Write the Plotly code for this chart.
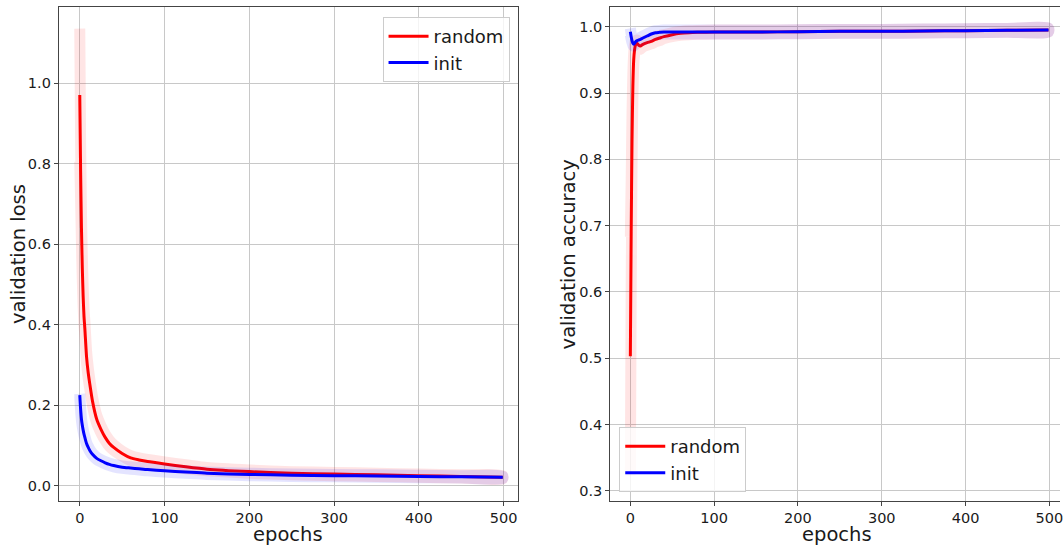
import plotly.graph_objects as go

# ---------------- data ----------------
epochs = [0, 1, 2, 3, 4, 5, 6, 8, 10, 12, 15, 20, 25, 30, 35, 40, 50, 60, 70, 80,
          100, 125, 150, 200, 250, 300, 350, 400, 450, 499]

random_loss = [0.97, 0.78, 0.64, 0.54, 0.47, 0.42, 0.39, 0.32, 0.28, 0.25, 0.21,
               0.165, 0.14, 0.12, 0.105, 0.095, 0.08, 0.069, 0.064, 0.060, 0.054,
               0.047, 0.041, 0.035, 0.031, 0.029, 0.027, 0.025, 0.023, 0.021]
random_loss_std = [0.165, 0.07, 0.04, 0.03, 0.025, 0.02, 0.018, 0.015, 0.013, 0.012,
                   0.011, 0.01, 0.009, 0.008, 0.008, 0.007, 0.006, 0.006, 0.005,
                   0.005, 0.005, 0.005, 0.004, 0.004, 0.004, 0.004, 0.004, 0.004,
                   0.004, 0.004]

init_loss = [0.225, 0.19, 0.165, 0.15, 0.138, 0.128, 0.12, 0.105, 0.095, 0.087,
             0.078, 0.068, 0.062, 0.057, 0.053, 0.050, 0.046, 0.044, 0.042, 0.040,
             0.037, 0.034, 0.031, 0.028, 0.026, 0.025, 0.024, 0.023, 0.022, 0.021]
init_loss_std = [0.003, 0.003, 0.003, 0.003, 0.003, 0.003, 0.003, 0.003, 0.003,
                 0.003, 0.003, 0.003, 0.003, 0.003, 0.003, 0.003, 0.003, 0.003,
                 0.003, 0.003, 0.003, 0.003, 0.003, 0.003, 0.003, 0.003, 0.003,
                 0.003, 0.003, 0.003]

random_acc = [0.503, 0.69, 0.83, 0.91, 0.95, 0.965, 0.972, 0.975, 0.972, 0.971,
              0.9735, 0.976, 0.978, 0.981, 0.983, 0.985, 0.988, 0.990, 0.991,
              0.9915, 0.992, 0.992, 0.992, 0.9925, 0.993, 0.993, 0.9935, 0.994,
              0.9945, 0.995]
random_acc_std = [0.18, 0.08, 0.04, 0.02, 0.01, 0.008, 0.006, 0.005, 0.005, 0.005,
                  0.004, 0.004, 0.004, 0.004, 0.004, 0.003, 0.003, 0.003, 0.003,
                  0.003, 0.003, 0.003, 0.003, 0.003, 0.003, 0.003, 0.003, 0.003,
                  0.003, 0.003]

init_acc = [0.9925, 0.985, 0.979, 0.975, 0.9735, 0.975, 0.977, 0.979, 0.980, 0.981,
            0.983, 0.986, 0.989, 0.991, 0.9915, 0.992, 0.992, 0.992, 0.992, 0.992,
            0.992, 0.992, 0.992, 0.9925, 0.993, 0.993, 0.9935, 0.994, 0.9945, 0.995]
init_acc_std = [0.005, 0.004, 0.003, 0.003, 0.003, 0.003, 0.003, 0.003, 0.003,
                0.003, 0.003, 0.003, 0.003, 0.003, 0.003, 0.003, 0.003, 0.003,
                0.003, 0.003, 0.003, 0.003, 0.003, 0.003, 0.003, 0.003, 0.003,
                0.003, 0.003, 0.003]

x_ticks = [0, 100, 200, 300, 400, 500]
loss_ticks = [0.0, 0.2, 0.4, 0.6, 0.8, 1.0]
acc_ticks = [0.3, 0.4, 0.5, 0.6, 0.7, 0.8, 0.9, 1.0]

RED = "#ff0000"
BLUE = "#0000ff"
FONT = "DejaVu Sans"
TXT = "#1a1a1a"

fig = go.Figure()


def band(mean, std, color, xa, ya):
    up = [m + s for m, s in zip(mean, std)]
    lo = [m - s for m, s in zip(mean, std)]
    fig.add_trace(go.Scatter(
        x=epochs + epochs[::-1], y=up + lo[::-1], mode="lines",
        fill="toself", fillcolor=color,
        line=dict(color=color, width=11, shape="spline", smoothing=0.6),
        opacity=0.1, showlegend=False, hoverinfo="skip", xaxis=xa, yaxis=ya))


def mean_line(mean, color, name, xa, ya, legend):
    fig.add_trace(go.Scatter(
        x=epochs, y=mean, mode="lines", name=name,
        line=dict(color=color, width=3, shape="spline", smoothing=0.6),
        xaxis=xa, yaxis=ya, legend=legend))


# left: loss
band(random_loss, random_loss_std, RED, "x", "y")
mean_line(random_loss, RED, "random", "x", "y", "legend")
band(init_loss, init_loss_std, BLUE, "x", "y")
mean_line(init_loss, BLUE, "init", "x", "y", "legend")

# right: accuracy
band(random_acc, random_acc_std, RED, "x2", "y2")
mean_line(random_acc, RED, "random", "x2", "y2", "legend2")
band(init_acc, init_acc_std, BLUE, "x2", "y2")
mean_line(init_acc, BLUE, "init", "x2", "y2", "legend2")

axis_common = dict(
    showgrid=True, gridcolor="#c8c8c8", gridwidth=1, zeroline=False,
    showline=True, linecolor="#444444", linewidth=1,
    ticks="outside", ticklen=4, tickcolor="#444444",
    tickfont=dict(family=FONT, size=14.5, color=TXT),
)

title_font = dict(family=FONT, size=19.5, color=TXT)

fig.update_layout(
    width=1063, height=545,
    margin=dict(l=0, r=0, t=0, b=0),
    paper_bgcolor="white", plot_bgcolor="white",
    font=dict(family=FONT, color=TXT),
    xaxis=dict(domain=[0.0555, 0.4883], range=[-24.7, 516.5], tickvals=x_ticks,
               mirror=True, anchor="y", **axis_common),
    yaxis=dict(domain=[0.0807, 0.9866], range=[-0.038, 1.188], tickvals=loss_ticks,
               tickformat=".1f", mirror=True, anchor="x", **axis_common),
    xaxis2=dict(domain=[0.5757, 1.0], range=[-24.0, 512.7], tickvals=x_ticks,
                mirror=True, anchor="y2", ticklabeloverflow="allow", **axis_common),
    yaxis2=dict(domain=[0.0807, 0.9866], range=[0.2846, 1.0293], tickvals=acc_ticks,
                tickformat=".1f", mirror=False, anchor="x2", **axis_common),
    legend=dict(x=0.4807, y=0.9688, xanchor="right", yanchor="top",
                bgcolor="rgba(255,255,255,0.8)", bordercolor="#cccccc", borderwidth=1,
                font=dict(family=FONT, size=18, color=TXT), tracegroupgap=0,
                itemwidth=40),
    legend2=dict(x=0.5842, y=0.0972, xanchor="left", yanchor="bottom",
                 bgcolor="rgba(255,255,255,0.8)", bordercolor="#cccccc", borderwidth=1,
                 font=dict(family=FONT, size=18, color=TXT), tracegroupgap=0,
                 itemwidth=40),
    annotations=[
        dict(text="epochs", x=289 / 1063, y=1 - 534 / 545, xref="paper", yref="paper",
             showarrow=False, font=title_font, xanchor="center", yanchor="middle"),
        dict(text="epochs", x=839 / 1063, y=1 - 534 / 545, xref="paper", yref="paper",
             showarrow=False, font=title_font, xanchor="center", yanchor="middle"),
        dict(text="validation loss", x=18 / 1063, y=1 - 254 / 545, xref="paper",
             yref="paper", showarrow=False, font=title_font, textangle=-90,
             xanchor="center", yanchor="middle"),
        dict(text="validation accuracy", x=570 / 1063, y=1 - 254 / 545, xref="paper",
             yref="paper", showarrow=False, font=title_font, textangle=-90,
             xanchor="center", yanchor="middle"),
    ],
)

fig.write_html("out.html")
